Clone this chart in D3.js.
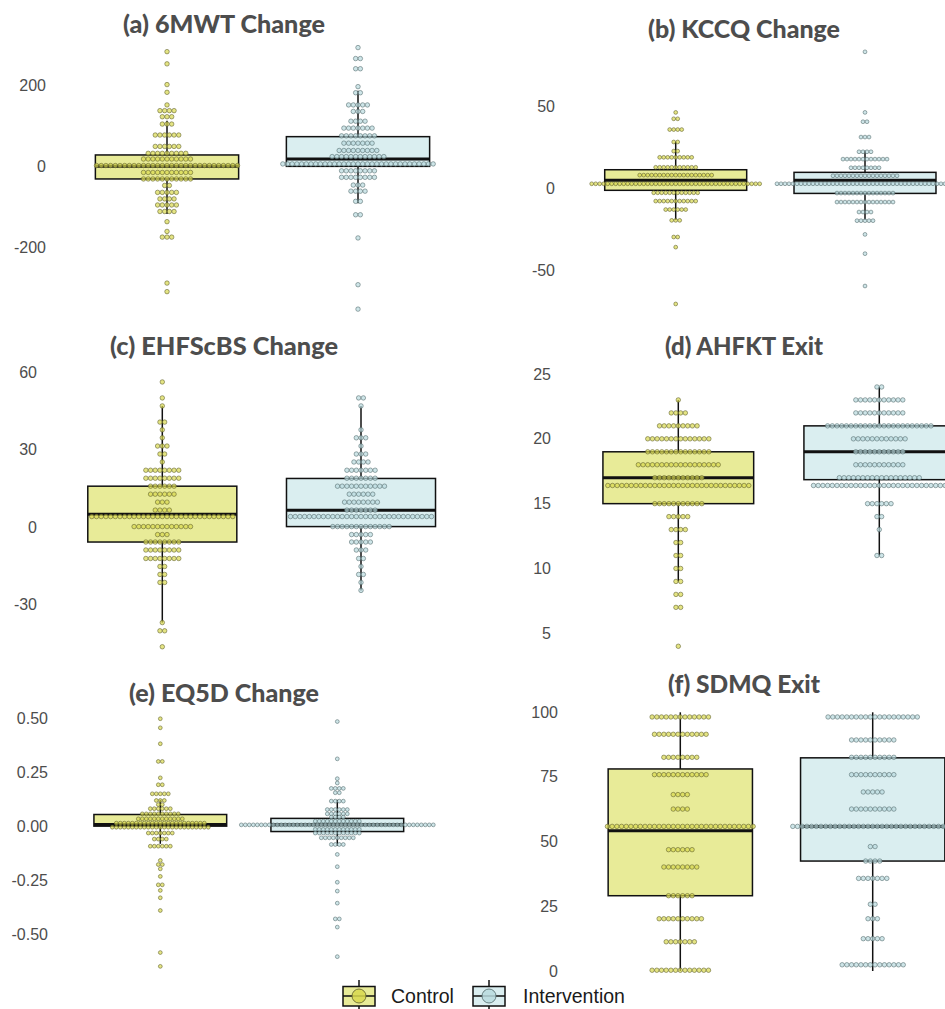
<!DOCTYPE html>
<html>
<head>
<meta charset="utf-8">
<script src="https://cdn.jsdelivr.net/npm/d3@7"></script>
<style>
  html,body{margin:0;padding:0;background:#fff;}
  svg{display:block;}
</style>
</head>
<body>
<svg id="chart"></svg>
<script>
// ---- data: dot rows are [value, number of dots in the stack] ----
const groups = ['Control','Intervention'];
const titles = ['(a) 6MWT Change','(b) KCCQ Change','(c) EHFScBS Change','(d) AHFKT Exit','(e) EQ5D Change','(f) SDMQ Exit'];

const mwtControl = [[282,1],[252,1],[201,1],[182,1],[151,1],[137,4],[122,3],[104,3],[77,6],[49,6],[32,9],[18,11],[2,31],[-15,11],[-31,11],[-47,2],[-64,5],[-80,4],[-95,5],[-111,4],[-136,1],[-160,1],[-174,3],[-287,1],[-308,1]];
const mwtInterv  = [[292,1],[265,2],[240,2],[196,1],[181,2],[151,5],[135,3],[111,4],[94,7],[75,8],[57,7],[39,9],[24,12],[6,33],[-11,8],[-27,8],[-46,3],[-61,4],[-86,2],[-119,2],[-176,1],[-291,1],[-351,1]];
const mwtBoxes   = [[-117,-31,0,28,112],[-91,0,18,73,186]];

const kccqControl = [[46.5,1],[42.6,2],[36,4],[28.4,2],[22.8,2],[19,9],[12.9,11],[8.1,19],[2.8,43],[-2.7,12],[-7.8,11],[-13,6],[-19.6,3],[-29.8,2],[-36,1],[-70.8,1]];
const kccqInterv  = [[83.6,1],[46.5,1],[40.8,2],[31.4,3],[22.4,4],[17.9,12],[12.6,8],[7.7,17],[2.8,45],[-2.9,15],[-8.4,15],[-14.5,4],[-19.8,5],[-28.2,1],[-40,1],[-59.8,1]];
const kccqBoxes   = [[-19.4,-1.2,5,11.4,28.5],[-19.4,-3.1,4.9,9.8,23]];

const ehfControl = [[56.4,1],[50.2,1],[47.1,1],[40.8,2],[37.8,1],[34.7,1],[31.5,3],[28.4,2],[25.3,1],[22.1,8],[19,8],[15.9,6],[12.8,6],[9.7,3],[6.6,4],[4.1,31],[0.2,13],[-2.9,3],[-5.8,8],[-8.9,8],[-12.2,8],[-15.3,2],[-18.4,2],[-21.5,2],[-37.1,1],[-40.3,2],[-46.5,1]];
const ehfInterv  = [[50.2,2],[47.1,1],[37.8,1],[34.7,3],[31.5,1],[28.4,3],[25.3,4],[22.1,7],[19,7],[15.9,11],[12.8,6],[9.7,8],[6.6,7],[4.1,31],[0.2,13],[-2.9,5],[-5.8,5],[-8.9,3],[-12.2,2],[-15.3,1],[-18.4,2],[-21.5,1],[-24.6,1]];
const ehfBoxes   = [[-37.1,-5.8,5,15.9,47.1],[-24.6,0.2,6.5,18.9,47.1]];

const ahfControl = [[23,1],[22,4],[21,9],[20,14],[19,14],[18,18],[17,11],[16.4,31],[15,11],[14,5],[13,4],[12,2],[11,2],[10,2],[9,2],[8,2],[7,2],[4,1]];
const ahfInterv  = [[24,2],[23,11],[22,11],[21,23],[20,12],[19,11],[18,11],[17,18],[16.4,29],[15,6],[14,2],[13,1],[11,2]];
const ahfBoxes   = [[9,15,17,19,23],[11,16.85,19,21,24]];

const eqControl = [[0.498,1],[0.456,1],[0.382,1],[0.300,2],[0.224,1],[0.192,2],[0.150,5],[0.119,3],[0.100,2],[0.081,6],[0.057,10],[0.034,12],[0.014,23],[-0.005,25],[-0.032,7],[-0.060,4],[-0.093,6],[-0.159,1],[-0.178,2],[-0.198,1],[-0.233,1],[-0.272,2],[-0.298,1],[-0.332,1],[-0.391,1],[-0.586,1],[-0.650,1]];
const eqInterv  = [[0.485,1],[0.312,1],[0.220,1],[0.200,1],[0.175,4],[0.155,2],[0.116,4],[0.077,6],[0.057,6],[0.042,4],[0.023,12],[0.006,49],[-0.015,12],[-0.032,12],[-0.054,9],[-0.085,4],[-0.131,1],[-0.188,1],[-0.260,1],[-0.301,1],[-0.357,1],[-0.430,2],[-0.468,1],[-0.605,1]];
const eqBoxes   = [[-0.082,0,0.008,0.054,0.122],[-0.091,-0.025,0.006,0.036,0.122]];

const sdmControl = [[98.2,13],[91.5,12],[82.6,8],[75.9,12],[68.2,4],[62.6,4],[55.9,32],[46.9,6],[40.2,8],[29.1,6],[20.2,10],[11.3,7],[0.3,13]];
const sdmInterv  = [[98.2,20],[89.3,10],[82.6,10],[75.9,10],[69.2,5],[62.6,10],[55.9,35],[48.1,2],[42.5,4],[35.8,7],[25.8,2],[20.2,3],[12.5,5],[2.4,14]];
const sdmBoxes   = [[0,29.1,54.2,78.1,100],[0,42.5,55.9,82.4,100]];

const tickSets = [[-200,0,200],[-50,0,50],[-30,0,30,60],[5,10,15,20,25],[-0.5,-0.25,0,0.25,0.5],[0,25,50,75,100]];
const tickFormats = [d3.format('d'),d3.format('d'),d3.format('d'),d3.format('d'),d3.format('.2f'),d3.format('d')];

const dots  = [[mwtControl,mwtInterv],[kccqControl,kccqInterv],[ehfControl,ehfInterv],[ahfControl,ahfInterv],[eqControl,eqInterv],[sdmControl,sdmInterv]];
const boxes = [mwtBoxes,kccqBoxes,ehfBoxes,ahfBoxes,eqBoxes,sdmBoxes];

// ---- layout (pixel positions per panel) ----
// yd: two domain values, yr: their pixel rows; xr: centre of the two groups; tw: title width
const layout = [
  {yd:[-200,200], yr:[247.7,85],  xr:[167,358],     lab:46,  tx:224, ty:23,  tw:202, dot:4.7},
  {yd:[-50,50],   yr:[270,106.7], xr:[675.7,865],   lab:555, tx:744, ty:28,  tw:192, dot:4.0},
  {yd:[-30,60],   yr:[604.3,372.7],xr:[162.3,361],  lab:37,  tx:224, ty:345, tw:228, dot:4.7},
  {yd:[5,25],     yr:[633.3,374], xr:[678.3,879.3], lab:551, tx:744, ty:345, tw:158, dot:4.7},
  {yd:[-0.5,0.5], yr:[934,718.3], xr:[160.3,337.3], lab:48,  tx:224, ty:692, tw:190, dot:4.0},
  {yd:[0,100],    yr:[971,712.3], xr:[680.3,872.7], lab:558, tx:744, ty:683, tw:152, dot:4.7}
];

const boxFill = {Control:'#e8eb98', Intervention:'#daeef0'};
const dotFill = {Control:'#d8d84e', Intervention:'#b9dade'};
const dotStroke = {Control:'#5c5c2a', Intervention:'#50686a'};

const W=945, H=1009;
const svg = d3.select('#chart').attr('width',W).attr('height',H);

layout.forEach((L,p)=>{
  const y = d3.scaleLinear().domain(L.yd).range(L.yr);
  const x = d3.scalePoint().domain(groups).range(L.xr);
  const bw = 0.75*(L.xr[1]-L.xr[0]);
  const fmt = tickFormats[p];
  const g = svg.append('g');

  // title
  g.append('text').attr('x',L.tx).attr('y',L.ty).attr('text-anchor','middle').attr('dominant-baseline','central')
    .attr('font-family','Lato, "Open Sans", sans-serif').attr('font-weight',900).attr('font-size',24).attr('fill','#4d4d4d')
    .attr('textLength',L.tw).attr('lengthAdjust','spacingAndGlyphs')
    .text(titles[p]);

  // y tick labels (no axis line, no grid)
  g.selectAll('.tick').data(tickSets[p]).enter().append('text')
    .attr('x',L.lab).attr('y',d=>y(d)).attr('text-anchor','end').attr('dominant-baseline','central')
    .attr('font-family','"Liberation Sans", Arial, sans-serif').attr('font-size',16).attr('fill','#4d4d4d')
    .text(d=>fmt(d).replace('\u2212','-'));

  groups.forEach((grp,k)=>{
    const [lo,q1,med,q3,hi] = boxes[p][k];
    const cx = x(grp);
    const bg = g.append('g');
    bg.append('line').attr('x1',cx).attr('x2',cx).attr('y1',y(hi)).attr('y2',y(q3)).attr('stroke','#111').attr('stroke-width',1.5);
    bg.append('line').attr('x1',cx).attr('x2',cx).attr('y1',y(q1)).attr('y2',y(lo)).attr('stroke','#111').attr('stroke-width',1.5);
    bg.append('rect').attr('x',cx-bw/2).attr('width',bw).attr('y',y(q3)).attr('height',y(q1)-y(q3))
      .attr('fill',boxFill[grp]).attr('stroke','#111').attr('stroke-width',1.5);
    bg.append('line').attr('x1',cx-bw/2).attr('x2',cx+bw/2).attr('y1',y(med)).attr('y2',y(med)).attr('stroke','#111').attr('stroke-width',3);

    // centred dot stacks
    const pts = [];
    dots[p][k].forEach(([v,n])=>{ for(let i=0;i<n;i++) pts.push({v, off:(i-(n-1)/2)}); });
    g.append('g').selectAll('circle').data(pts).enter().append('circle')
      .attr('cx',d=>cx+d.off*L.dot).attr('cy',d=>y(d.v)).attr('r',L.dot/2-0.1)
      .attr('fill',dotFill[grp]).attr('fill-opacity',0.7)
      .attr('stroke',dotStroke[grp]).attr('stroke-opacity',0.8).attr('stroke-width',0.7);
  });
});

// legend
const leg = svg.append('g');
const keys = [{k:'Control',x:343,tx:391},{k:'Intervention',x:473,tx:523}];
keys.forEach(o=>{
  const cx=o.x+16, kg=leg.append('g');
  kg.append('line').attr('x1',cx).attr('x2',cx).attr('y1',980).attr('y2',1009).attr('stroke','#111').attr('stroke-width',1.5);
  kg.append('rect').attr('x',o.x).attr('y',986.5).attr('width',32).attr('height',19.5).attr('fill',boxFill[o.k]).attr('stroke','#111').attr('stroke-width',1.5);
  kg.append('line').attr('x1',o.x).attr('x2',o.x+32).attr('y1',996).attr('y2',996).attr('stroke','#111').attr('stroke-width',1.5);
  kg.append('circle').attr('cx',cx).attr('cy',996).attr('r',7).attr('fill',dotFill[o.k]).attr('fill-opacity',0.85).attr('stroke',dotStroke[o.k]).attr('stroke-width',0.8);
  kg.append('text').attr('x',o.tx).attr('y',996).attr('dominant-baseline','central')
    .attr('font-family','"Liberation Sans", Arial, sans-serif').attr('font-size',19.5).attr('fill','#1a1a1a').text(o.k);
});
</script>
</body>
</html>
